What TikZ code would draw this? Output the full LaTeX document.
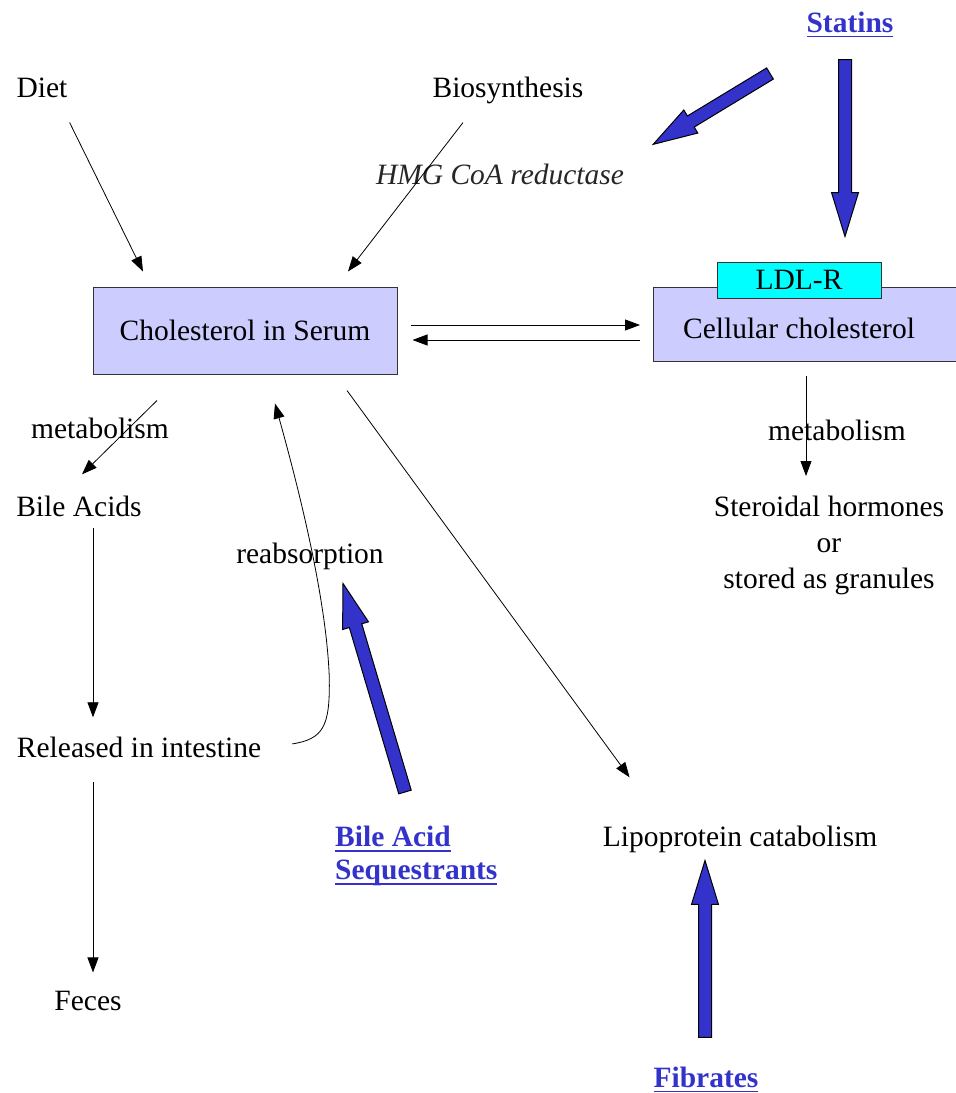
\documentclass[tikz,border=0pt]{standalone}
\usepackage{fontspec}
\setmainfont{Liberation Serif}
\usetikzlibrary{arrows.meta, calc, positioning}
\definecolor{drugblue}{RGB}{51,51,204}
\definecolor{boxlav}{RGB}{204,204,255}
\definecolor{ldlcyan}{RGB}{0,255,255}
\newcommand{\bigfont}{\fontsize{29.5}{33}\selectfont}
\newcommand{\uln}[1]{\setbox0\hbox{#1}\leavevmode\rlap{\copy0}\vrule height -3.5pt depth 5.3pt width \wd0\relax}
\tikzstyle{box} = [rectangle, draw=black!80, fill=boxlav, line width=1pt, text centered]
\tikzstyle{txt} = [inner sep=2pt, anchor=base]
\tikzstyle{drug} = [inner sep=2pt, text=drugblue, font=\bigfont\bfseries]
\tikzstyle{arrow} = [line width=0.8pt, -{Triangle[length=15pt,width=11pt]}]
\tikzstyle{fat} = [fill=drugblue, draw=black, line width=1pt, line join=miter]
% thick blue drug arrow, tail #1, tip #2
\newcommand{\fatarrow}[2]{%
  \coordinate (fa-base) at ($(#2)!44pt!(#1)$);
  \draw [fat] ($(#1)!6.5pt!90:(#2)$) -- ($(fa-base)!6.5pt!90:(#2)$)
    -- ($(fa-base)!13.5pt!90:(#2)$) -- (#2) -- ($(fa-base)!13.5pt!-90:(#2)$)
    -- ($(fa-base)!6.5pt!-90:(#2)$) -- ($(#1)!6.5pt!-90:(#2)$) -- cycle;}

\begin{document}
\begin{tikzpicture}[x=1pt, y=-1pt, font=\bigfont]
   \useasboundingbox (0,0) rectangle (956,1093);
   % boxes
   \node (serum) [box, minimum width=304pt, minimum height=87pt] at (245,330.5) {Cholesterol in Serum};
   \node (cell) [box, minimum width=305pt, minimum height=74pt, text height=28pt, text depth=0pt] at (806,324) {\hspace*{-14pt}Cellular cholesterol};
   \node (ldlr) [box, fill=ldlcyan, minimum width=164pt, minimum height=36pt] at (799,280) {LDL-R};
   % texts
   \node (diet) [txt] at (42,97) {Diet};
   \node (bio) [txt] at (508,97) {Biosynthesis};
   \node (hmg) [txt] at (500,184) {\color{black!85}\itshape HMG CoA reductase};
   \node (meta1) [txt] at (100,438) {metabolism};
   \node (bile) [txt] at (79,516) {Bile Acids};
   \node (rel) [txt] at (139,757) {Released in intestine};
   \node (feces) [txt] at (88,1010) {Feces};
   \node (reab) [txt] at (310,563) {reabsorption};
   \node (lipo) [txt] at (740,846) {Lipoprotein catabolism};
   \node (meta2) [txt] at (837,440) {metabolism};
   \node (ster) [inner sep=2pt, align=center, anchor=north, font=\fontsize{29.5}{36}\selectfont] at (829,494) {Steroidal hormones\\or\\ stored as granules};
   % drugs
   \node (statins) [drug, anchor=base] at (850,32) {\uln{Statins}};
   \node (seq) [drug, align=left, anchor=north west] at (333,824) {\uln{Bile Acid}\\\uln{Sequestrants}};
   \node (fib) [drug, anchor=base] at (706,1087) {\uln{Fibrates}};
   % thin arrows
   \draw [arrow] ($(diet.south east)+(0,23)$) -- ($(serum.north)+(-102,-15)$);
   \draw [arrow] ($(bio.south)+(-45,17)$) -- ($(serum.north)+(103,-15)$);
   \draw [arrow] ($(serum.east)+(13,-5.5)$) -- ($(cell.west)+(-13,1)$);
   \draw [arrow] ($(cell.west)+(-13,16)$) -- ($(serum.east)+(15,9.5)$);
   \draw [arrow] ($(serum.south)+(-88,26)$) -- ($(bile.north)+(3,-19)$);
   \draw [arrow] ($(bile.south)+(14,10)$) -- ($(rel.north)+(-46,-17)$);
   \draw [arrow] ($(rel.south)+(-46,23)$) -- ($(feces.north)+(5,-16)$);
   \draw [arrow] ($(rel.east)+(29,-3)$) .. controls ($(rel.east)+(60,-8)$) and ($(rel.east)+(67,-20)$) .. ($(rel.east)+(66,-70)$)
      .. controls ($(rel.east)+(63,-150)$) and ($(rel.east)+(35,-260)$) .. ($(serum.south)+(30,29)$);
   \draw [arrow] ($(serum.south)+(102,16)$) -- ($(lipo.north west)+(29,-46)$);
   \draw [arrow] ($(cell.south)+(0,14)$) -- ($(ster.north)+(-23,-18)$);
   % drug arrows
   \coordinate (statA) at ($(statins.south)+(-80,34)$);
   \coordinate (statB) at ($(hmg.north east)+(27,-17)$);
   \fatarrow{statA}{statB}
   \coordinate (statC) at ($(statins.south)+(-5,20)$);
   \coordinate (statD) at ($(ldlr.north)+(46,-25)$);
   \fatarrow{statC}{statD}
   \coordinate (seqA) at ($(seq.north west)+(72,-32)$);
   \coordinate (seqB) at ($(reab.south)+(33,12)$);
   \fatarrow{seqA}{seqB}
   \coordinate (fibA) at ($(fib.north)+(-1,-27)$);
   \coordinate (fibB) at ($(lipo.south)+(-35,6)$);
   \fatarrow{fibA}{fibB}
\end{tikzpicture}
\end{document}
